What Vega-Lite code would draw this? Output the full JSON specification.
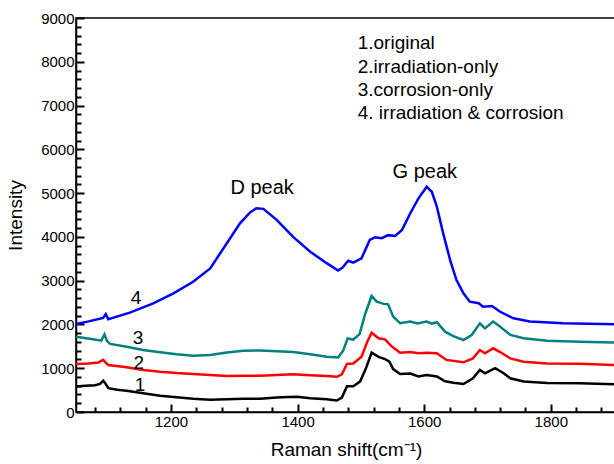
{
  "$schema": "https://vega.github.io/schema/vega-lite/v6.json",
  "width": 540,
  "height": 394,
  "autosize": {"type": "none"},
  "padding": {"left": 76, "top": 18, "right": 0, "bottom": 52},
  "background": "white",
  "config": {
    "font": "Liberation Sans",
    "view": {"stroke": "black", "strokeWidth": 1.5},
    "axis": {"grid": false, "domainColor": "black", "domainWidth": 1.5, "labelColor": "black", "titleColor": "black", "labelFont": "Liberation Sans", "titleFont": "Liberation Sans", "labelFontSize": 15, "titleFontSize": 19, "titleFontWeight": "normal"}
  },
  "datasets": {
    "spectra": [
      {"shift": 1050, "intensity": 580, "sample": "1"},
      {"shift": 1065, "intensity": 600, "sample": "1"},
      {"shift": 1080, "intensity": 610, "sample": "1"},
      {"shift": 1088, "intensity": 640, "sample": "1"},
      {"shift": 1093, "intensity": 715, "sample": "1"},
      {"shift": 1097, "intensity": 640, "sample": "1"},
      {"shift": 1101, "intensity": 545, "sample": "1"},
      {"shift": 1115, "intensity": 510, "sample": "1"},
      {"shift": 1130, "intensity": 487, "sample": "1"},
      {"shift": 1156, "intensity": 430, "sample": "1"},
      {"shift": 1183, "intensity": 370, "sample": "1"},
      {"shift": 1209, "intensity": 335, "sample": "1"},
      {"shift": 1235, "intensity": 300, "sample": "1"},
      {"shift": 1262, "intensity": 278, "sample": "1"},
      {"shift": 1288, "intensity": 290, "sample": "1"},
      {"shift": 1315, "intensity": 300, "sample": "1"},
      {"shift": 1341, "intensity": 305, "sample": "1"},
      {"shift": 1367, "intensity": 330, "sample": "1"},
      {"shift": 1385, "intensity": 345, "sample": "1"},
      {"shift": 1399, "intensity": 350, "sample": "1"},
      {"shift": 1420, "intensity": 315, "sample": "1"},
      {"shift": 1446, "intensity": 290, "sample": "1"},
      {"shift": 1462, "intensity": 262, "sample": "1"},
      {"shift": 1470, "intensity": 330, "sample": "1"},
      {"shift": 1478, "intensity": 590, "sample": "1"},
      {"shift": 1488, "intensity": 590, "sample": "1"},
      {"shift": 1499, "intensity": 700, "sample": "1"},
      {"shift": 1508, "intensity": 1000, "sample": "1"},
      {"shift": 1517, "intensity": 1355, "sample": "1"},
      {"shift": 1528, "intensity": 1260, "sample": "1"},
      {"shift": 1538, "intensity": 1210, "sample": "1"},
      {"shift": 1545, "intensity": 1150, "sample": "1"},
      {"shift": 1551, "intensity": 980, "sample": "1"},
      {"shift": 1562, "intensity": 870, "sample": "1"},
      {"shift": 1578, "intensity": 880, "sample": "1"},
      {"shift": 1591, "intensity": 810, "sample": "1"},
      {"shift": 1604, "intensity": 845, "sample": "1"},
      {"shift": 1620, "intensity": 810, "sample": "1"},
      {"shift": 1633, "intensity": 700, "sample": "1"},
      {"shift": 1646, "intensity": 670, "sample": "1"},
      {"shift": 1662, "intensity": 640, "sample": "1"},
      {"shift": 1677, "intensity": 770, "sample": "1"},
      {"shift": 1688, "intensity": 960, "sample": "1"},
      {"shift": 1696, "intensity": 885, "sample": "1"},
      {"shift": 1712, "intensity": 1000, "sample": "1"},
      {"shift": 1725, "intensity": 890, "sample": "1"},
      {"shift": 1736, "intensity": 770, "sample": "1"},
      {"shift": 1757, "intensity": 695, "sample": "1"},
      {"shift": 1794, "intensity": 660, "sample": "1"},
      {"shift": 1846, "intensity": 655, "sample": "1"},
      {"shift": 1900, "intensity": 635, "sample": "1"},

      {"shift": 1050, "intensity": 1095, "sample": "2"},
      {"shift": 1070, "intensity": 1110, "sample": "2"},
      {"shift": 1085, "intensity": 1130, "sample": "2"},
      {"shift": 1093, "intensity": 1190, "sample": "2"},
      {"shift": 1097, "intensity": 1130, "sample": "2"},
      {"shift": 1101, "intensity": 1075, "sample": "2"},
      {"shift": 1130, "intensity": 1020, "sample": "2"},
      {"shift": 1156, "intensity": 960, "sample": "2"},
      {"shift": 1183, "intensity": 920, "sample": "2"},
      {"shift": 1209, "intensity": 890, "sample": "2"},
      {"shift": 1235, "intensity": 870, "sample": "2"},
      {"shift": 1262, "intensity": 845, "sample": "2"},
      {"shift": 1288, "intensity": 825, "sample": "2"},
      {"shift": 1315, "intensity": 828, "sample": "2"},
      {"shift": 1341, "intensity": 830, "sample": "2"},
      {"shift": 1367, "intensity": 845, "sample": "2"},
      {"shift": 1393, "intensity": 860, "sample": "2"},
      {"shift": 1420, "intensity": 840, "sample": "2"},
      {"shift": 1446, "intensity": 822, "sample": "2"},
      {"shift": 1462, "intensity": 805, "sample": "2"},
      {"shift": 1470, "intensity": 860, "sample": "2"},
      {"shift": 1478, "intensity": 1100, "sample": "2"},
      {"shift": 1488, "intensity": 1110, "sample": "2"},
      {"shift": 1501, "intensity": 1265, "sample": "2"},
      {"shift": 1510, "intensity": 1600, "sample": "2"},
      {"shift": 1517, "intensity": 1810, "sample": "2"},
      {"shift": 1528, "intensity": 1685, "sample": "2"},
      {"shift": 1538, "intensity": 1660, "sample": "2"},
      {"shift": 1549, "intensity": 1495, "sample": "2"},
      {"shift": 1562, "intensity": 1355, "sample": "2"},
      {"shift": 1578, "intensity": 1370, "sample": "2"},
      {"shift": 1591, "intensity": 1340, "sample": "2"},
      {"shift": 1604, "intensity": 1355, "sample": "2"},
      {"shift": 1620, "intensity": 1340, "sample": "2"},
      {"shift": 1635, "intensity": 1190, "sample": "2"},
      {"shift": 1662, "intensity": 1135, "sample": "2"},
      {"shift": 1677, "intensity": 1225, "sample": "2"},
      {"shift": 1688, "intensity": 1415, "sample": "2"},
      {"shift": 1696, "intensity": 1340, "sample": "2"},
      {"shift": 1709, "intensity": 1455, "sample": "2"},
      {"shift": 1720, "intensity": 1370, "sample": "2"},
      {"shift": 1736, "intensity": 1225, "sample": "2"},
      {"shift": 1757, "intensity": 1150, "sample": "2"},
      {"shift": 1794, "intensity": 1110, "sample": "2"},
      {"shift": 1846, "intensity": 1100, "sample": "2"},
      {"shift": 1900, "intensity": 1075, "sample": "2"},

      {"shift": 1050, "intensity": 1720, "sample": "3"},
      {"shift": 1077, "intensity": 1660, "sample": "3"},
      {"shift": 1090, "intensity": 1630, "sample": "3"},
      {"shift": 1095, "intensity": 1775, "sample": "3"},
      {"shift": 1099, "intensity": 1620, "sample": "3"},
      {"shift": 1104, "intensity": 1555, "sample": "3"},
      {"shift": 1130, "intensity": 1490, "sample": "3"},
      {"shift": 1156, "intensity": 1415, "sample": "3"},
      {"shift": 1183, "intensity": 1365, "sample": "3"},
      {"shift": 1209, "intensity": 1320, "sample": "3"},
      {"shift": 1235, "intensity": 1285, "sample": "3"},
      {"shift": 1262, "intensity": 1300, "sample": "3"},
      {"shift": 1288, "intensity": 1360, "sample": "3"},
      {"shift": 1314, "intensity": 1400, "sample": "3"},
      {"shift": 1341, "intensity": 1405, "sample": "3"},
      {"shift": 1367, "intensity": 1385, "sample": "3"},
      {"shift": 1393, "intensity": 1370, "sample": "3"},
      {"shift": 1420, "intensity": 1320, "sample": "3"},
      {"shift": 1446, "intensity": 1260, "sample": "3"},
      {"shift": 1464, "intensity": 1245, "sample": "3"},
      {"shift": 1472, "intensity": 1400, "sample": "3"},
      {"shift": 1479, "intensity": 1680, "sample": "3"},
      {"shift": 1488, "intensity": 1655, "sample": "3"},
      {"shift": 1498, "intensity": 1780, "sample": "3"},
      {"shift": 1507, "intensity": 2250, "sample": "3"},
      {"shift": 1517, "intensity": 2650, "sample": "3"},
      {"shift": 1525, "intensity": 2520, "sample": "3"},
      {"shift": 1536, "intensity": 2470, "sample": "3"},
      {"shift": 1543, "intensity": 2460, "sample": "3"},
      {"shift": 1551, "intensity": 2180, "sample": "3"},
      {"shift": 1562, "intensity": 2030, "sample": "3"},
      {"shift": 1578, "intensity": 2065, "sample": "3"},
      {"shift": 1589, "intensity": 2020, "sample": "3"},
      {"shift": 1604, "intensity": 2065, "sample": "3"},
      {"shift": 1612, "intensity": 2020, "sample": "3"},
      {"shift": 1620, "intensity": 2050, "sample": "3"},
      {"shift": 1633, "intensity": 1835, "sample": "3"},
      {"shift": 1646, "intensity": 1735, "sample": "3"},
      {"shift": 1662, "intensity": 1645, "sample": "3"},
      {"shift": 1675, "intensity": 1760, "sample": "3"},
      {"shift": 1688, "intensity": 2025, "sample": "3"},
      {"shift": 1696, "intensity": 1910, "sample": "3"},
      {"shift": 1709, "intensity": 2065, "sample": "3"},
      {"shift": 1720, "intensity": 1950, "sample": "3"},
      {"shift": 1736, "intensity": 1760, "sample": "3"},
      {"shift": 1757, "intensity": 1685, "sample": "3"},
      {"shift": 1794, "intensity": 1630, "sample": "3"},
      {"shift": 1846, "intensity": 1605, "sample": "3"},
      {"shift": 1900, "intensity": 1585, "sample": "3"},

      {"shift": 1050, "intensity": 2010, "sample": "4"},
      {"shift": 1070, "intensity": 2070, "sample": "4"},
      {"shift": 1093, "intensity": 2150, "sample": "4"},
      {"shift": 1097, "intensity": 2240, "sample": "4"},
      {"shift": 1101, "intensity": 2120, "sample": "4"},
      {"shift": 1135, "intensity": 2270, "sample": "4"},
      {"shift": 1172, "intensity": 2480, "sample": "4"},
      {"shift": 1204, "intensity": 2710, "sample": "4"},
      {"shift": 1235, "intensity": 2975, "sample": "4"},
      {"shift": 1262, "intensity": 3280, "sample": "4"},
      {"shift": 1288, "intensity": 3850, "sample": "4"},
      {"shift": 1309, "intensity": 4310, "sample": "4"},
      {"shift": 1325, "intensity": 4560, "sample": "4"},
      {"shift": 1335, "intensity": 4655, "sample": "4"},
      {"shift": 1346, "intensity": 4640, "sample": "4"},
      {"shift": 1367, "intensity": 4390, "sample": "4"},
      {"shift": 1393, "intensity": 4000, "sample": "4"},
      {"shift": 1420, "intensity": 3660, "sample": "4"},
      {"shift": 1446, "intensity": 3400, "sample": "4"},
      {"shift": 1464, "intensity": 3230, "sample": "4"},
      {"shift": 1471, "intensity": 3300, "sample": "4"},
      {"shift": 1480, "intensity": 3455, "sample": "4"},
      {"shift": 1488, "intensity": 3410, "sample": "4"},
      {"shift": 1501, "intensity": 3510, "sample": "4"},
      {"shift": 1514, "intensity": 3930, "sample": "4"},
      {"shift": 1522, "intensity": 3990, "sample": "4"},
      {"shift": 1533, "intensity": 3970, "sample": "4"},
      {"shift": 1543, "intensity": 4040, "sample": "4"},
      {"shift": 1554, "intensity": 4020, "sample": "4"},
      {"shift": 1565, "intensity": 4160, "sample": "4"},
      {"shift": 1578, "intensity": 4540, "sample": "4"},
      {"shift": 1591, "intensity": 4880, "sample": "4"},
      {"shift": 1604, "intensity": 5145, "sample": "4"},
      {"shift": 1612, "intensity": 5030, "sample": "4"},
      {"shift": 1620, "intensity": 4690, "sample": "4"},
      {"shift": 1630, "intensity": 4080, "sample": "4"},
      {"shift": 1641, "intensity": 3470, "sample": "4"},
      {"shift": 1651, "intensity": 3015, "sample": "4"},
      {"shift": 1662, "intensity": 2710, "sample": "4"},
      {"shift": 1672, "intensity": 2520, "sample": "4"},
      {"shift": 1686, "intensity": 2485, "sample": "4"},
      {"shift": 1693, "intensity": 2405, "sample": "4"},
      {"shift": 1707, "intensity": 2420, "sample": "4"},
      {"shift": 1720, "intensity": 2290, "sample": "4"},
      {"shift": 1741, "intensity": 2140, "sample": "4"},
      {"shift": 1767, "intensity": 2065, "sample": "4"},
      {"shift": 1820, "intensity": 2025, "sample": "4"},
      {"shift": 1900, "intensity": 2005, "sample": "4"}
    ],
    "legendText": [
      {"shift": 1495, "intensity": 8430, "label": "1.original"},
      {"shift": 1495, "intensity": 7880, "label": "2.irradiation-only"},
      {"shift": 1495, "intensity": 7355, "label": "3.corrosion-only"},
      {"shift": 1495, "intensity": 6830, "label": "4.  irradiation & corrosion"}
    ],
    "peakText": [
      {"shift": 1344, "intensity": 5120, "label": "D peak"},
      {"shift": 1601, "intensity": 5480, "label": "G peak"}
    ],
    "curveText": [
      {"shift": 1145, "intensity": 2600, "label": "4"},
      {"shift": 1148, "intensity": 1700, "label": "3"},
      {"shift": 1149, "intensity": 1110, "label": "2"},
      {"shift": 1151, "intensity": 620, "label": "1"}
    ]
  },
  "layer": [
    {
      "data": {"name": "spectra"},
      "mark": {"type": "line", "strokeWidth": 2.5, "clip": true},
      "encoding": {
        "x": {
          "field": "shift", "type": "quantitative",
          "scale": {"domain": [1050, 1903], "nice": false, "zero": false},
          "axis": {"orient": "bottom", "title": "Raman shift(cm⁻¹)", "values": [1200, 1400, 1600, 1800], "format": "d", "tickSize": -8, "tickColor": "#000000", "tickWidth": 2, "labelPadding": 10, "labelOverlap": false, "titlePadding": 11}
        },
        "y": {
          "field": "intensity", "type": "quantitative",
          "scale": {"domain": [0, 9000], "nice": false},
          "axis": {"orient": "left", "title": "Intensity", "values": [0, 1000, 2000, 3000, 4000, 5000, 6000, 7000, 8000, 9000], "format": "d", "tickSize": -8, "tickColor": "#000000", "tickWidth": 2, "labelPadding": 10, "labelOverlap": false, "titlePadding": 15}
        },
        "color": {
          "field": "sample", "type": "nominal",
          "scale": {"domain": ["1", "2", "3", "4"], "range": ["#000000", "#ff0000", "#008080", "#0000ff"]},
          "legend": null
        }
      }
    },
    {
      "data": {"name": "legendText"},
      "mark": {"type": "text", "align": "left", "baseline": "middle", "fontSize": 19, "font": "Liberation Sans", "color": "black"},
      "encoding": {
        "x": {
          "field": "shift", "type": "quantitative",
          "axis": {"orient": "top", "offset": -394, "title": null, "values": [1080,1120,1160,1240,1280,1320,1360,1440,1480,1520,1560,1640,1680,1720,1760,1840,1880], "labels": false, "domain": false, "tickSize": 5, "tickColor": "#000000", "tickWidth": 2}
        },
        "y": {
          "field": "intensity", "type": "quantitative",
          "axis": {"orient": "right", "offset": -540, "title": null, "values": [200,400,600,800,1200,1400,1600,1800,2200,2400,2600,2800,3200,3400,3600,3800,4200,4400,4600,4800,5200,5400,5600,5800,6200,6400,6600,6800,7200,7400,7600,7800,8200,8400,8600,8800], "labels": false, "domain": false, "tickSize": 5, "tickColor": "#000000", "tickWidth": 2}
        },
        "text": {"field": "label"}
      }
    },
    {
      "data": {"name": "peakText"},
      "mark": {"type": "text", "align": "center", "baseline": "middle", "fontSize": 20, "font": "Liberation Sans", "color": "black"},
      "encoding": {
        "x": {"field": "shift", "type": "quantitative", "axis": null},
        "y": {"field": "intensity", "type": "quantitative", "axis": null},
        "text": {"field": "label"}
      }
    },
    {
      "data": {"name": "curveText"},
      "mark": {"type": "text", "align": "center", "baseline": "middle", "fontSize": 19, "font": "Liberation Sans", "color": "black"},
      "encoding": {
        "x": {"field": "shift", "type": "quantitative", "axis": null},
        "y": {"field": "intensity", "type": "quantitative", "axis": null},
        "text": {"field": "label"}
      }
    }
  ],
  "resolve": {"axis": {"x": "independent", "y": "independent"}}
}
